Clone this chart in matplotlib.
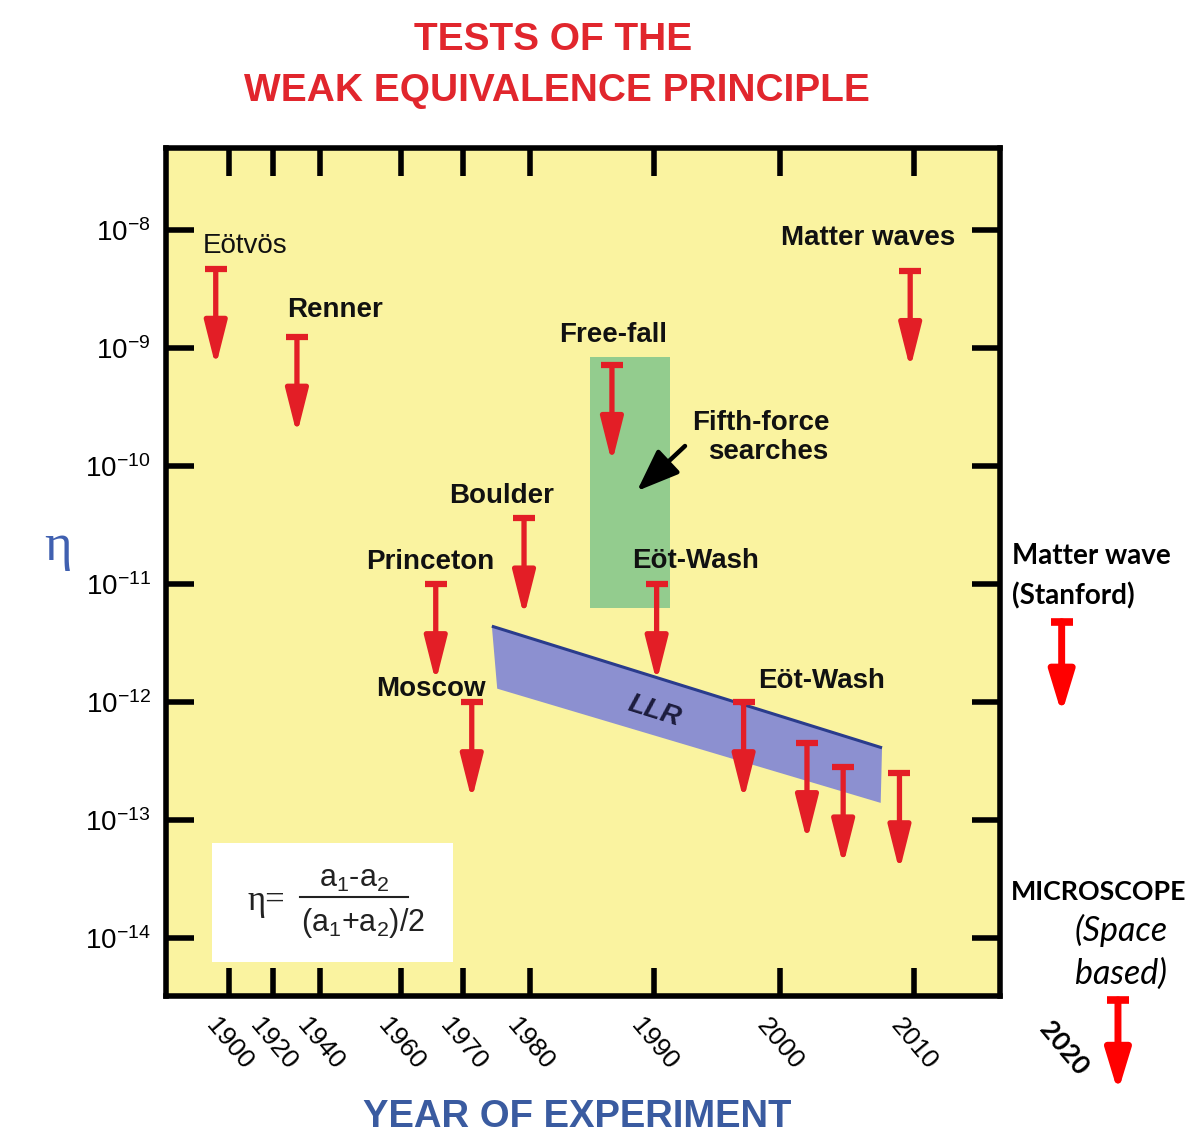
import numpy as np
import matplotlib
matplotlib.use('Agg')
import matplotlib.pyplot as plt

plt.rcParams['font.family'] = ['Liberation Sans', 'DejaVu Sans']
plt.rcParams['mathtext.fontset'] = 'custom'
plt.rcParams['mathtext.rm'] = 'Liberation Sans'
plt.rcParams['mathtext.it'] = 'Liberation Sans:italic'
plt.rcParams['mathtext.bf'] = 'Liberation Sans:bold'
plt.rcParams['mathtext.default'] = 'regular'

# ---------------- data ----------------
tick_years = [1900, 1920, 1940, 1960, 1970, 1980, 1990, 2000, 2010]
tick_labels = ['1900', '1920', '1940', '1960', '1970', '1980', '1990', '2000', '2010']
eta_ticks = [1e-8, 1e-9, 1e-10, 1e-11, 1e-12, 1e-13, 1e-14]
eta_tick_labels = [r'$10^{-8}$', r'$10^{-9}$', r'$10^{-10}$', r'$10^{-11}$',
                   r'$10^{-12}$', r'$10^{-13}$', r'$10^{-14}$']

limit_names = ['Eötvös', 'Renner', 'Princeton', 'Boulder', 'Moscow', 'Free-fall',
               'Eöt-Wash', 'Eöt-Wash', 'Eöt-Wash', 'Eöt-Wash', 'Eöt-Wash', 'Matter waves']
limit_years = [1894.0, 1930.2, 1965.6, 1979.1, 1971.3, 1986.6,
               1990.2, 1997.1, 2002.0, 2004.7, 2008.9, 2009.7]
limit_eta = [4.7e-9, 1.25e-9, 1.0e-11, 3.6e-11, 1.0e-12, 7.2e-10,
             1.0e-11, 1.0e-12, 4.5e-13, 2.8e-13, 2.5e-13, 4.5e-9]

future_names = ['Matter wave (Stanford)', 'MICROSCOPE']
future_years = [2021.0, 2025.2]
future_eta = [4.8e-12, 3.0e-15]

fifth_force_years = [1984.8, 1991.3, 1991.3, 1984.8]
fifth_force_eta = [6.3e-12, 6.3e-12, 8.4e-10, 8.4e-10]

llr_years = [1974.3, 2007.6, 2007.5, 1975.1]
llr_eta = [4.4e-12, 4.1e-13, 1.4e-13, 1.3e-12]

# ------------- non-uniform year axis (scale definition) -------------
scale_years = np.array([1900, 1920, 1940, 1960, 1970, 1980, 1990, 2000, 2010], float)
scale_units = np.array([229, 273, 320, 401, 463, 530, 654, 780, 914], float)


def _pw(x, xs, ys):
    x = np.asarray(x, float)
    y = np.interp(x, xs, ys)
    s0 = (ys[1] - ys[0]) / (xs[1] - xs[0])
    s1 = (ys[-1] - ys[-2]) / (xs[-1] - xs[-2])
    y = np.where(x < xs[0], ys[0] + (x - xs[0]) * s0, y)
    y = np.where(x > xs[-1], ys[-1] + (x - xs[-1]) * s1, y)
    return y


def fwd(x):
    return _pw(x, scale_years, scale_units)


def inv(u):
    return _pw(u, scale_units, scale_years)


W, H = 1194, 1134
fig = plt.figure(figsize=(W / 100, H / 100), dpi=100)
fig.patch.set_facecolor('white')


def F(x, y):
    return (x / W, 1 - y / H)


ax = fig.add_axes([166 / W, 1 - 996 / H, 834 / W, 848 / H])
ax.set_facecolor('#FAF3A0')
ax.set_xscale('function', functions=(fwd, inv))
ax.set_yscale('log')
ax.set_xlim(1871.4, 2016.4)
ax.set_ylim(10 ** -14.49, 10 ** -7.305)

for s in ax.spines.values():
    s.set_linewidth(4.0)
    s.set_color('black')

ax.set_xticks(tick_years)
ax.set_xticklabels(tick_labels)
ax.set_yticks(eta_ticks)
ax.set_yticklabels(eta_tick_labels)
ax.yaxis.set_minor_locator(matplotlib.ticker.NullLocator())
ax.xaxis.set_minor_locator(matplotlib.ticker.NullLocator())
ax.tick_params(direction='in', length=20, width=4, top=True, right=True,
               color='black')
ax.tick_params(axis='y', labelsize=20, pad=11)
ax.tick_params(axis='x', labelsize=19, pad=13, labelrotation=-50)
for lab in ax.get_xticklabels():
    lab.set_ha('center')

# fifth-force region
ax.fill(fifth_force_years, fifth_force_eta, color='#93CC8E', zorder=1, lw=0)
# LLR band
ax.fill(llr_years, llr_eta, color='#8C90D0', zorder=2, lw=0)
ax.plot(llr_years[:2], llr_eta[:2], color='#2A3C8C', lw=2.2, zorder=3,
        solid_capstyle='butt')

RED = '#E31E26'
DROP = 10 ** -0.83


def upper_limit(x, v, color, drop=DROP, lw=3.8, cap=16.5, capw=4.5,
                hw=0.34, hl=1.35):
    ax.plot([x], [v], marker='_', ms=cap, mew=capw, color=color,
            clip_on=False, zorder=6)
    ax.annotate('', xy=(x, v * drop), xytext=(x, v),
                arrowprops=dict(arrowstyle='-|>,head_width=%g,head_length=%g' % (hw, hl),
                                color=color, lw=lw, shrinkA=0, shrinkB=0,
                                mutation_scale=20),
                annotation_clip=False, zorder=6)


for x, v in zip(limit_years, limit_eta):
    upper_limit(x, v, RED)
for x, v in zip(future_years, future_eta):
    upper_limit(x, v, '#FF0000', drop=10 ** -0.78, lw=5.0, cap=15.5, capw=5.5,
                hw=0.38, hl=1.25)

# ---------------- labels ----------------
lab_kw = dict(fontsize=20, fontweight='bold', ha='center', va='baseline', color='#111111')
fig.text(*F(245, 253), 'Eötvös', fontsize=20, ha='center', va='baseline', color='#111111')
fig.text(*F(335, 317), 'Renner', **lab_kw)
fig.text(*F(613, 342), 'Free-fall', **lab_kw)
fig.text(*F(868, 245), 'Matter waves', **lab_kw)
fig.text(*F(761, 430), 'Fifth-force', **lab_kw)
fig.text(*F(768, 459), 'searches', **lab_kw)
fig.text(*F(502, 503), 'Boulder', **lab_kw)
fig.text(*F(430, 569), 'Princeton', **lab_kw)
fig.text(*F(696, 568), 'Eöt-Wash', **lab_kw)
fig.text(*F(431, 696), 'Moscow', **lab_kw)
fig.text(*F(822, 688), 'Eöt-Wash', **lab_kw)

# LLR label along band
fig.canvas.draw()
p0 = ax.transData.transform((llr_years[0], llr_eta[0]))
p1 = ax.transData.transform((llr_years[1], llr_eta[1]))
ang = np.degrees(np.arctan2(p1[1] - p0[1], p1[0] - p0[0]))
fig.text(*F(654, 711), 'LLR', fontsize=20, fontstyle='italic', fontweight='bold',
         rotation=ang, rotation_mode='anchor', ha='center', va='center', color='#1C1C3C')

# fifth force arrow
ax.annotate('', xy=F(637, 491), xytext=F(685, 446), xycoords='figure fraction',
            textcoords='figure fraction',
            arrowprops=dict(arrowstyle='-|>,head_width=0.5,head_length=1.3',
                            color='black', lw=3.2, shrinkA=0, shrinkB=0,
                            mutation_scale=20), zorder=7)

# formula box
ax.add_patch(matplotlib.patches.Rectangle(((212 - 166) / 834, (996 - 962) / 848),
                                          241 / 834, 119 / 848, transform=ax.transAxes,
                                          facecolor='white', edgecolor='none', zorder=4))
fig.text(*F(266, 910), 'η=', fontsize=25, ha='center', va='baseline',
         color='#222222', family=['Liberation Serif', 'DejaVu Serif'], zorder=5)
fig.text(*F(354, 887), 'a$_1$-a$_2$', fontsize=22, ha='center', va='baseline',
         color='#222222', zorder=5)
fig.add_artist(matplotlib.lines.Line2D([300 / W, 408 / W], [1 - 897 / H, 1 - 897 / H],
                                       color='#222222', lw=1.5, zorder=5))
fig.text(*F(363, 931), '(a$_1$+a$_2$)/2', fontsize=22, ha='center', va='baseline',
         color='#222222', zorder=5)

# axis labels
fig.text(*F(58, 560), 'η', fontsize=38, ha='center', va='baseline', color='#4060B0',
         family=['Liberation Serif', 'DejaVu Serif'])
fig.text(*F(577, 1127), 'YEAR OF EXPERIMENT', fontsize=27.5, fontweight='bold',
         ha='center', va='baseline', color='#3A5BA0')

# title
fig.text(*F(553, 50), 'TESTS OF THE', fontsize=28, fontweight='bold', ha='center',
         va='baseline', color='#E1262D')
fig.text(*F(557, 101), 'WEAK EQUIVALENCE PRINCIPLE', fontsize=28, fontweight='bold',
         ha='center', va='baseline', color='#E1262D')

# right-hand annotations
rk = dict(fontsize=20, fontweight='bold', ha='left', va='baseline', color='black',
          family=['Lato', 'DejaVu Sans'])
fig.text(*F(1012, 564), 'Matter wave', **rk)
fig.text(*F(1012, 604), '(Stanford)', **rk)
fig.text(*F(1011, 900), 'MICROSCOPE', fontsize=19.3, fontweight='bold', ha='left',
         va='baseline', color='black', family=['Lato', 'DejaVu Sans'])
ik = dict(fontsize=24.5, fontstyle='italic', ha='center', va='baseline', color='black',
          family=['Lato', 'DejaVu Sans'])
fig.text(*F(1121, 941), '(Space', **ik)
fig.text(*F(1121, 984), 'based)', **ik)
fig.text(*F(1064, 1048), '2020', fontsize=19, fontweight='bold', rotation=-50,
         ha='center', va='center', color='black', family=['Lato', 'DejaVu Sans'])

fig.savefig('out.png', dpi=100, facecolor='white')
